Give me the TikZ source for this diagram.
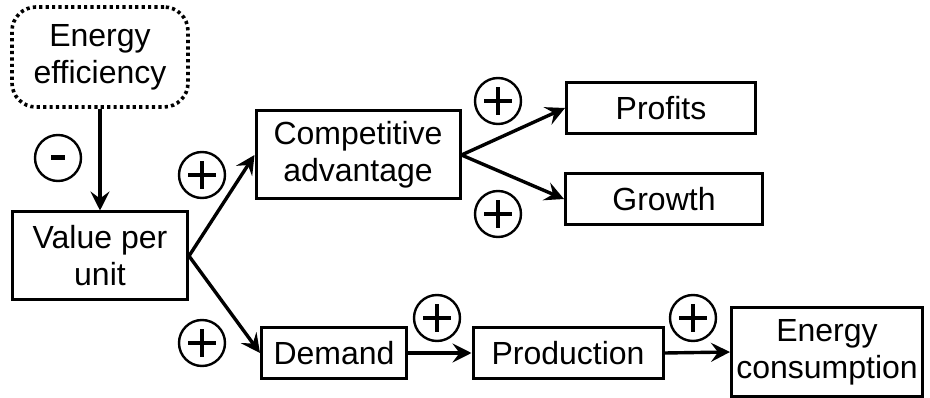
\documentclass[tikz,border=0pt]{standalone}
\usepackage{fontspec}
\setmainfont{Liberation Sans}
\usepackage{tikz}
\usetikzlibrary{positioning, arrows.meta}
\tikzset{
  box/.style     = {rectangle, draw=black, line width=3pt, inner sep=0pt,
                    align=center, font=\fontsize{32}{37}\selectfont},
  effbox/.style  = {box, rounded corners=24pt, dash pattern=on 3.2pt off 3.2pt,
                    line width=3.6pt},
  sign/.style    = {circle, draw=black, line width=2.4pt, inner sep=0pt,
                    minimum size=46pt},
  plussign/.style  = {sign, path picture={
                    \draw[line width=4.6pt] ([xshift=-14pt]path picture bounding box.center)
                      -- ([xshift=14pt]path picture bounding box.center);
                    \draw[line width=4.6pt] ([yshift=-14pt]path picture bounding box.center)
                      -- ([yshift=14pt]path picture bounding box.center);}},
  minussign/.style = {sign, path picture={
                    \draw[line width=5pt] ([xshift=-7pt]path picture bounding box.center)
                      -- ([xshift=7pt]path picture bounding box.center);}},
  arr/.style     = {-{Stealth[length=19pt,width=19pt,inset=7pt]}, line width=3.4pt},
}
\begin{document}
\begin{tikzpicture}[x=1pt, y=-1pt]
  \useasboundingbox (0,0) rectangle (930,398);

  % ----- left column -----
  \node[effbox, minimum width=176pt, minimum height=100pt] (eff) at (100,57)
       {Energy\\efficiency};
  \node[box, minimum width=175pt, minimum height=88pt] (val) at (100,256)
       {Value per\\unit};
  \node[minussign] (sminus) at (58,158) {};

  \draw[arr] (eff.south) -- (val.north);

  % ----- top branch -----
  \node[box, minimum width=204pt, minimum height=88pt] (comp) at (358,155)
       {Competitive\\advantage};
  \node[box, minimum width=189pt, minimum height=51pt] (prof) at (661,108) {Profits};
  \node[box, minimum width=197pt, minimum height=51pt] (grow) at (664,199) {Growth};
  \node[plussign] (scomp) at (202,175) {};
  \node[plussign] (sprof) at (498,101) {};
  \node[plussign] (sgrow) at (498,214) {};

  \draw[arr] (val.east) -- (comp.west);
  \draw[arr] (comp.east) -- (prof.west);
  \draw[arr] (comp.east) -- (grow.west);

  % ----- bottom chain -----
  \node[box, minimum width=145pt, minimum height=51pt] (dem) at (334,353) {Demand};
  \node[box, minimum width=190pt, minimum height=51pt] (prod) at (568,353) {Production};
  \node[box, minimum width=191pt, minimum height=88pt] (cons) at (827,352)
       {Energy\\consumption};
  \node[plussign] (sdem) at (202,343) {};
  \node[plussign] (sprod) at (437,318) {};
  \node[plussign] (scons) at (693,318) {};

  \draw[arr] (val.east) -- (dem.west);
  \draw[arr] (dem.east) -- (prod.west);
  \draw[arr] (prod.east) -- (cons.west);

\end{tikzpicture}
\end{document}
